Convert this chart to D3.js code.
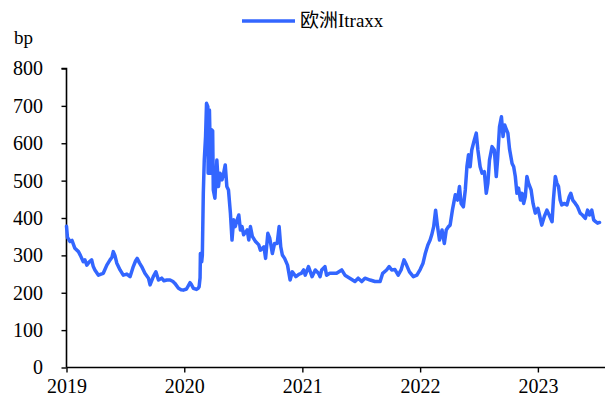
<!DOCTYPE html>
<html><head><meta charset="utf-8">
<script src="https://cdn.jsdelivr.net/npm/d3@7"></script>
<style>body{margin:0;background:#fff}svg{display:block}</style>
</head><body>
<script>
const seriesName = "欧洲Itraxx";
const yUnit = "bp";
const yTicks = [0,100,200,300,400,500,600,700,800];
const xTickLabels = ["2019","2020","2021","2022","2023"];
const dates = [
"2019-01-01","2019-01-04","2019-01-12","2019-01-18","2019-01-27","2019-02-07","2019-02-13","2019-02-22","2019-02-27","2019-03-05","2019-03-12","2019-03-20","2019-03-25","2019-03-30","2019-04-10","2019-04-18","2019-04-25","2019-05-06","2019-05-16","2019-05-22","2019-05-26","2019-05-31","2019-06-06","2019-06-16","2019-06-26","2019-07-07","2019-07-17","2019-07-27","2019-08-03","2019-08-08","2019-08-15","2019-08-22","2019-09-01","2019-09-12","2019-09-17","2019-09-27","2019-10-05","2019-10-13","2019-10-23","2019-10-30","2019-11-08","2019-11-18","2019-11-27","2019-12-03","2019-12-14","2019-12-22","2019-12-29",
"2020-01-08","2020-01-19","2020-01-23","2020-01-29","2020-02-08","2020-02-13","2020-02-16","2020-02-19","2020-02-20","2020-02-24","2020-02-26","2020-02-29","2020-03-03","2020-03-07","2020-03-10","2020-03-14","2020-03-15","2020-03-19","2020-03-23","2020-03-26","2020-03-29","2020-03-31","2020-04-05","2020-04-11","2020-04-16","2020-04-21","2020-04-27","2020-05-02","2020-05-07","2020-05-12","2020-05-17","2020-05-23","2020-05-28","2020-06-02","2020-06-07","2020-06-13","2020-06-18","2020-06-23","2020-06-28","2020-07-03","2020-07-14","2020-07-19","2020-07-24","2020-07-30","2020-08-09","2020-08-19","2020-08-24","2020-09-04","2020-09-09","2020-09-16","2020-09-22","2020-09-30","2020-10-07","2020-10-15","2020-10-21","2020-10-26","2020-10-31","2020-11-07","2020-11-16","2020-11-24","2020-12-01","2020-12-12","2020-12-22","2020-12-29",
"2021-01-05","2021-01-10","2021-01-20","2021-01-31","2021-02-10","2021-02-20","2021-02-25","2021-03-02","2021-03-12","2021-03-17","2021-03-27","2021-04-17","2021-05-03","2021-05-13","2021-05-28","2021-06-13","2021-06-23","2021-07-04","2021-07-14","2021-07-30","2021-08-14","2021-08-30","2021-09-07","2021-09-19","2021-09-27","2021-10-05","2021-10-15","2021-10-25","2021-11-03","2021-11-12","2021-11-20","2021-11-29","2021-12-11","2021-12-22",
"2022-01-01","2022-01-10","2022-01-17","2022-01-20","2022-01-25","2022-02-01","2022-02-06","2022-02-12","2022-02-18","2022-02-24","2022-03-02","2022-03-10","2022-03-17","2022-03-23","2022-03-30","2022-04-04","2022-04-11","2022-04-20","2022-04-27","2022-05-03","2022-05-08","2022-05-15","2022-05-21","2022-05-26","2022-05-31","2022-06-05","2022-06-10","2022-06-18","2022-06-24","2022-06-29","2022-07-06","2022-07-12","2022-07-19","2022-07-25","2022-07-30","2022-08-04","2022-08-12","2022-08-19","2022-08-25","2022-08-29","2022-09-04","2022-09-10","2022-09-15","2022-09-20","2022-09-24","2022-09-30","2022-10-05","2022-10-13","2022-10-18","2022-10-23","2022-10-28","2022-11-02","2022-11-08","2022-11-13","2022-11-18","2022-11-23","2022-11-28","2022-12-03","2022-12-11","2022-12-17","2022-12-24",
"2023-01-01","2023-01-06","2023-01-13","2023-01-21","2023-01-29","2023-02-05","2023-02-14","2023-02-18","2023-02-24","2023-03-01","2023-03-06","2023-03-11","2023-03-16","2023-03-23","2023-04-01","2023-04-08","2023-04-13","2023-04-19","2023-04-27","2023-05-04","2023-05-12","2023-05-19","2023-05-28","2023-06-04","2023-06-10","2023-06-17","2023-06-23","2023-06-29","2023-07-05","2023-07-11"
];
const values = [
378,348,337,340,319,310,300,283,288,274,282,288,270,261,247,250,252,274,288,295,310,300,279,261,247,250,243,270,285,292,280,270,252,239,221,243,256,234,239,232,234,234,230,225,212,208,207,
210,227,222,212,209,212,216,240,305,283,300,466,555,618,707,698,520,689,520,636,633,475,453,555,484,520,502,520,542,484,475,413,341,395,377,395,408,368,377,355,368,341,377,351,337,328,314,323,292,359,346,305,332,332,377,323,301,292,274,234,256,243,250,252,
261,247,270,243,261,252,243,261,270,247,252,252,261,247,239,230,239,230,239,234,230,230,252,261,270,261,262,247,261,288,274,256,243,247,
262,279,305,314,328,341,355,377,421,377,341,368,332,368,377,381,421,462,448,484,439,430,475,537,569,537,582,609,627,582,537,520,524,466,493,555,591,582,511,555,644,671,618,649,640,627,585,546,537,511,466,480,448,466,439,457,511,493,475,439,413,
426,408,381,404,421,408,390,448,511,493,484,448,435,439,435,457,466,448,439,430,413,408,399,421,408,421,395,390,386,388
];

const W = 611, H = 406;
const margin = {left: 66.5, right: 6, top: 68.5, bottom: 38.5};
const FONT = "'Liberation Serif','Times New Roman','Noto Sans CJK SC',serif";
const parse = d3.timeParse("%Y-%m-%d");
const data = dates.map((d,i)=>({date: parse(d), value: values[i]}));

const svg = d3.select("body").append("svg").attr("width", W).attr("height", H)
  .style("font-family", FONT);

const x = d3.scaleTime()
  .domain([parse("2019-01-01"), parse("2023-07-28")])
  .range([margin.left, W - margin.right]);
const y = d3.scaleLinear().domain([0, 800]).range([H - margin.bottom, margin.top]);

// y axis
const yAxis = svg.append("g").attr("transform", `translate(${margin.left},0)`)
  .call(d3.axisLeft(y).tickValues(yTicks).tickSize(5).tickPadding(18.5).tickFormat(d3.format("d")))
  .attr("font-family", FONT);
yAxis.select(".domain").attr("stroke", "#000").attr("stroke-width", 1.6).attr("d", `M-5,${y(800)}H0V${y(0)}`);
yAxis.selectAll(".tick line").attr("stroke", "#000").attr("stroke-width", 1.4);
yAxis.selectAll(".tick text").attr("font-size", 20).attr("fill", "#000");

// x axis
const yearDates = xTickLabels.map(s => parse(s + "-01-01"));
const xAxis = svg.append("g").attr("transform", `translate(0,${y(0)})`)
  .call(d3.axisBottom(x).tickValues(yearDates).tickSize(5).tickPadding(6).tickFormat((d,i)=>xTickLabels[i]))
  .attr("font-family", FONT);
xAxis.select(".domain").attr("stroke", "#000").attr("stroke-width", 1.6).attr("d", `M${margin.left},0H${W - margin.right}`);
xAxis.selectAll(".tick line").attr("stroke", "#000").attr("stroke-width", 1.4);
xAxis.selectAll(".tick text").attr("font-size", 20).attr("fill", "#000");

// line
const line = d3.line().x(d => x(d.date)).y(d => y(d.value));
svg.append("path").datum(data)
  .attr("fill", "none").attr("stroke", "#3366ff").attr("stroke-width", 3.5)
  .attr("stroke-linejoin", "round").attr("stroke-linecap", "round")
  .attr("d", line);

// unit label
svg.append("text").attr("x", 14).attr("y", 44).attr("font-size", 19).attr("fill", "#000").text(yUnit);

// legend
const lg = svg.append("g").attr("transform", "translate(242,21)");
lg.append("line").attr("x1", 0).attr("x2", 53).attr("y1", 0).attr("y2", 0)
  .attr("stroke", "#3366ff").attr("stroke-width", 3.5);
lg.append("text").attr("x", 58).attr("y", 6).attr("font-size", 19).attr("fill", "#000").text(seriesName);
</script>
</body></html>
